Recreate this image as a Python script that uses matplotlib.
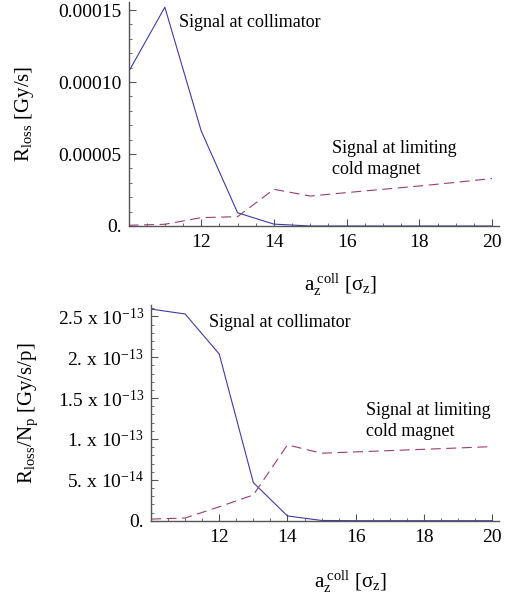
import numpy as np
import matplotlib
matplotlib.use('Agg')
import matplotlib.pyplot as plt
from matplotlib.ticker import MultipleLocator, FixedLocator

plt.rcParams['font.family'] = ['Liberation Serif', 'DejaVu Serif']
plt.rcParams['mathtext.fontset'] = 'custom'
plt.rcParams['mathtext.rm'] = 'Liberation Serif'
plt.rcParams['mathtext.it'] = 'Liberation Serif:italic'

# data
a_coll = [10, 11, 12, 13, 14, 15, 16, 17, 18, 19, 20]

rate_coll = [1.07e-4, 1.52e-4, 6.6e-5, 9.2e-6, 1.3e-6, 0, 0, 0, 0, 0, 0]
rate_magnet = [5e-7, 1.2e-6, 5.8e-6, 6.5e-6, 2.55e-5, 2.08e-5, 2.32e-5, 2.55e-5, 2.78e-5, 3.03e-5, 3.3e-5]

norm_coll = [2.59e-13, 2.53e-13, 2.04e-13, 4.66e-14, 5.8e-15, 3e-16, 0, 0, 0, 0, 0]
norm_magnet = [2e-15, 3.3e-15, 1.7e-14, 3.15e-14, 9.28e-14, 8.26e-14, 8.42e-14, 8.58e-14, 8.74e-14, 8.9e-14, 9.07e-14]

x_ticks = [12, 14, 16, 18, 20]
top_yticks = [0, 5e-5, 1e-4, 1.5e-4]
top_ylabels = ['0.', '0.00005', '0.00010', '0.00015']
bot_yticks = [0, 5e-14, 1e-13, 1.5e-13, 2e-13, 2.5e-13]
bot_ylabels = ['0.', '5. x 10$^{-14}$', '1. x 10$^{-13}$', '1.5 x 10$^{-13}$',
               '2. x 10$^{-13}$', '2.5 x 10$^{-13}$']

blue = '#3d3da3'
purple = '#993d75'
axis_gray = '#555555'

fig = plt.figure(figsize=(5.11, 5.96), dpi=100)


def style_axes(ax, yticks, ylabels, ytop, xright, yminor, xlab_y):
    for s in ['top', 'right']:
        ax.spines[s].set_visible(False)
    for s in ['left', 'bottom']:
        ax.spines[s].set_color(axis_gray)
        ax.spines[s].set_linewidth(1.0)
    ax.set_xlim(10, xright)
    ax.set_ylim(0, ytop)
    ax.xaxis.set_major_locator(FixedLocator(x_ticks))
    ax.xaxis.set_minor_locator(MultipleLocator(0.5))
    ax.set_yticks(yticks)
    ax.set_yticklabels(ylabels)
    ax.yaxis.set_minor_locator(MultipleLocator(yminor))
    ax.tick_params(which='both', direction='in', color=axis_gray, labelsize=14)
    ax.tick_params(which='major', length=5, width=0.8)
    ax.tick_params(which='minor', length=2.5, width=0.6)
    ax.tick_params(axis='x', pad=6)
    ax.tick_params(axis='y', pad=5)
    ax.set_xlabel(r'$\mathrm{a}_{\mathrm{z}}^{\ \mathrm{coll}}$ [σ$_{\mathrm{z}}$]', fontsize=15)
    ax.xaxis.set_label_coords(0.573, xlab_y)


# top panel
ax1 = fig.add_axes([128.5 / 511, 1 - 226 / 596, 370.5 / 511, 224 / 596])
ax1.plot(a_coll, rate_coll, color=blue, lw=0.8)
ax1.plot(a_coll, rate_magnet, color=purple, lw=0.8, dashes=(9, 5))
style_axes(ax1, top_yticks, top_ylabels, 1.556e-4, 20.19, 1e-5, -0.205)
ax1.set_ylabel(r'$\mathrm{R}_{\mathrm{loss}}$ [Gy/s]', fontsize=15)
ax1.yaxis.set_label_coords(-0.25, 0.5)
ax1.text(11.4, 1.38e-4, 'Signal at collimator', fontsize=13)
ax1.text(15.6, 3.6e-5, 'Signal at limiting\ncold magnet', fontsize=13, linespacing=1.3)

# bottom panel
ax2 = fig.add_axes([151 / 511, 1 - 520.7 / 596, 348.3 / 511, 215.7 / 596])
ax2.plot(a_coll, norm_coll, color=blue, lw=0.8)
ax2.plot(a_coll, norm_magnet, color=purple, lw=0.8, dashes=(9, 5))
style_axes(ax2, bot_yticks, bot_ylabels, 2.64e-13, 20.21, 1e-14, -0.222)
ax2.set_ylabel(r'$\mathrm{R}_{\mathrm{loss}}/\mathrm{N}_{\mathrm{p}}$ [Gy/s/p]', fontsize=15)
ax2.yaxis.set_label_coords(-0.32, 0.5)
ax2.text(11.7, 2.37e-13, 'Signal at collimator', fontsize=13)
ax2.text(16.3, 1.04e-13, 'Signal at limiting\ncold magnet', fontsize=13, linespacing=1.3)

fig.savefig('out.png', dpi=100)
